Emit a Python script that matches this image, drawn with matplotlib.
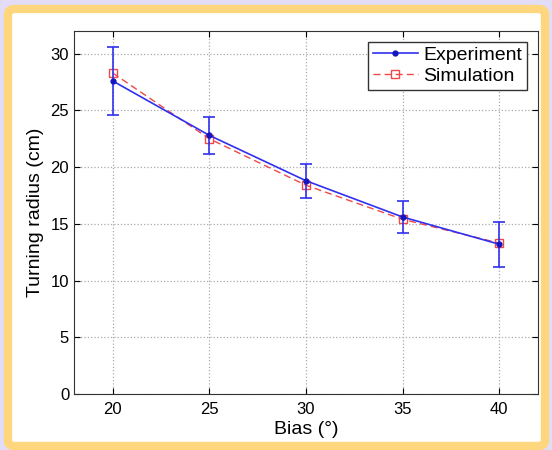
import matplotlib
matplotlib.use("Agg")
import matplotlib.pyplot as plt
from matplotlib.patches import FancyBboxPatch

bias = [20, 25, 30, 35, 40]
experiment = [27.6, 22.8, 18.8, 15.6, 13.2]
exp_err = [3.0, 1.6, 1.5, 1.4, 2.0]
simulation = [28.3, 22.5, 18.4, 15.4, 13.3]

plt.rcParams['font.family'] = ['Liberation Sans', 'DejaVu Sans']

W, H = 552, 450
fig = plt.figure(figsize=(W / 100, H / 100), dpi=100)
fig.patch.set_facecolor('#e2dcf6')

# orange rounded frame with white inside
frame = FancyBboxPatch((8 / W, 4 / H), 537 / W, 437 / H,
                       boxstyle="round,pad=0,rounding_size=0.012",
                       transform=fig.transFigure, facecolor='white',
                       edgecolor='#fdd67e', linewidth=6, zorder=-10)
fig.patches.append(frame)

ax = fig.add_axes([74 / W, 1 - 394 / H, (538 - 74) / W, (394 - 31) / H])
ax.set_zorder(5)

blue = '#3030f0'
ax.errorbar(bias, experiment, yerr=exp_err, fmt='none', ecolor=blue,
            capsize=4, elinewidth=1.2, capthick=1.2, zorder=3)
ax.plot(bias, simulation, color='#f04848', ls='--', lw=1, dashes=(5, 3),
        marker='s', mfc='none', ms=5.5, mew=1, label='Simulation', zorder=2)
ax.plot(bias, experiment, color=blue, lw=1.2, marker='.', ms=7,
        mfc='#1515c0', mec='#1515c0', label='Experiment', zorder=4)

ax.set_xlim(18, 42)
ax.set_ylim(0, 32)
ax.set_xticks(bias)
ax.set_yticks(range(0, 31, 5))
ax.grid(True, ls=':', color='#aaaaaa', lw=0.9)
ax.tick_params(direction='in', top=True, right=True, labelsize=12, length=4)
ax.tick_params(axis='x', pad=6)
ax.tick_params(axis='y', pad=3.5)
for s in ax.spines.values():
    s.set_color('#333333')
ax.set_xlabel('Bias (°)', fontsize=14, labelpad=3)
ax.set_ylabel('Turning radius (cm)', fontsize=14, labelpad=5)

handles, labels = ax.get_legend_handles_labels()
leg = ax.legend(handles[::-1], labels[::-1], loc='upper right', fontsize=14,
                fancybox=False, framealpha=1, edgecolor='#333333',
                handlelength=2.3, borderpad=0.25, labelspacing=0.15,
                handletextpad=0.3, borderaxespad=0.55)
leg.get_frame().set_linewidth(1)

fig.savefig('out.png', dpi=100, facecolor=fig.get_facecolor())
